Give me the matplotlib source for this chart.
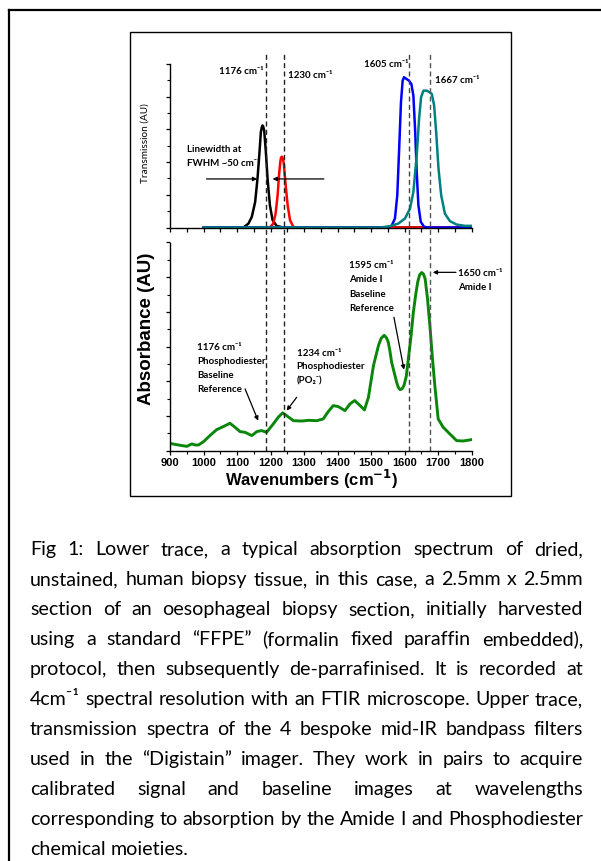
import matplotlib
matplotlib.use('Agg')
import matplotlib.pyplot as plt
from matplotlib.lines import Line2D
from matplotlib.patches import Rectangle
from matplotlib.ticker import MultipleLocator, NullFormatter

plt.rcParams['font.family'] = ['Liberation Sans', 'DejaVu Sans']
CAL = ['Lato', 'DejaVu Sans']

W, H = 601, 862

# upper trace: filter transmission
black_x = [1000, 1119, 1134, 1144, 1154, 1161, 1167, 1171, 1174, 1176, 1178, 1181, 1186, 1191, 1198, 1206, 1218, 1238, 1800]
black_y = [0, 0, 0.024, 0.065, 0.156, 0.299, 0.461, 0.583, 0.615, 0.624, 0.618, 0.593, 0.461, 0.299, 0.136, 0.045, 0.010, 0, 0]
red_x = [1000, 1198, 1208, 1215, 1221, 1226, 1229, 1231, 1233, 1235, 1238, 1240, 1245, 1251, 1258, 1268, 1278, 1800]
red_y = [0, 0, 0.024, 0.085, 0.197, 0.339, 0.400, 0.425, 0.433, 0.431, 0.410, 0.380, 0.258, 0.136, 0.045, 0.004, 0, 0]
blue_x = [1000, 1546, 1561, 1571, 1578, 1584, 1589, 1594, 1598, 1605, 1613, 1620, 1626, 1631, 1636, 1641, 1648, 1658, 1671, 1800]
blue_y = [0, 0, 0.010, 0.055, 0.197, 0.502, 0.766, 0.898, 0.919, 0.909, 0.898, 0.878, 0.807, 0.604, 0.339, 0.136, 0.035, 0.004, 0, 0]
teal_x = [1000, 1527, 1556, 1581, 1601, 1616, 1626, 1636, 1643, 1649, 1656, 1666, 1674, 1681, 1688, 1694, 1701, 1709, 1720, 1735, 1755, 1780, 1800]
teal_y = [0, 0, 0.008, 0.024, 0.055, 0.116, 0.217, 0.441, 0.665, 0.797, 0.837, 0.837, 0.827, 0.817, 0.746, 0.583, 0.360, 0.197, 0.085, 0.039, 0.018, 0.010, 0.010]

# lower trace: tissue absorbance
abs_x = [900, 925, 950, 965, 975, 985, 1000, 1019, 1039, 1059, 1079, 1094, 1109, 1124, 1144, 1159,
         1173, 1188, 1208, 1223, 1236, 1248, 1268, 1293, 1313, 1338, 1357, 1372, 1387, 1402, 1422,
         1437, 1451, 1467, 1480, 1492, 1507, 1522, 1530, 1539, 1546, 1551, 1556, 1561, 1576, 1581,
         1586, 1592, 1598, 1605, 1611, 1619, 1626, 1633, 1639, 1645, 1651, 1656, 1661, 1668, 1676,
         1683, 1690, 1700, 1715, 1735, 1755, 1775, 1800]
abs_y = [0.042, 0.033, 0.025, 0.039, 0.033, 0.033, 0.052, 0.087, 0.121, 0.139, 0.158, 0.135, 0.110,
         0.106, 0.087, 0.110, 0.116, 0.106, 0.154, 0.193, 0.218, 0.202, 0.173, 0.171, 0.175, 0.173,
         0.183, 0.225, 0.260, 0.254, 0.231, 0.270, 0.289, 0.260, 0.235, 0.308, 0.491, 0.607, 0.648,
         0.665, 0.650, 0.626, 0.575, 0.511, 0.395, 0.365, 0.352, 0.356, 0.376, 0.430, 0.530, 0.660,
         0.799, 0.900, 0.973, 1.015, 1.027, 1.018, 0.992, 0.880, 0.703, 0.530, 0.376, 0.183, 0.135,
         0.096, 0.058, 0.056, 0.064]

filter_lines = [1185, 1240, 1613, 1675]
filter_line_colors = ['#222222', '#222222', '#444444', '#555555']

caption = [
    "Fig 1: Lower trace, a typical absorption spectrum of dried,",
    "unstained, human biopsy tissue, in this case, a 2.5mm x 2.5mm",
    "section of an oesophageal biopsy section, initially harvested",
    "using a standard \u201cFFPE\u201d (formalin fixed paraffin embedded),",
    "protocol, then subsequently de-parrafinised. It is recorded at",
    "4cm\u207b\u00b9 spectral resolution with an FTIR microscope. Upper trace,",
    "transmission spectra of the 4 bespoke mid-IR bandpass filters",
    "used in the \u201cDigistain\u201d imager. They work in pairs to acquire",
    "calibrated signal and baseline images at wavelengths",
    "corresponding to absorption by the Amide I and Phosphodiester",
    "chemical moieties.",
]


def fx(px):
    return px / W


def fy(py):
    return 1 - py / H


fig = plt.figure(figsize=(W / 100, H / 100), dpi=100)

# frames
fig.add_artist(Line2D([fx(9), fx(9)], [fy(11), 0], color='black', lw=1.6))
fig.add_artist(Line2D([fx(9), 1], [fy(11), fy(11)], color='black', lw=1.6))
fig.add_artist(Rectangle((fx(129.5), fy(496.7)), (510.7 - 129.5) / W, (496.7 - 33.3) / H,
                         fill=False, ec='black', lw=1.0, transform=fig.transFigure))

ax1 = fig.add_axes([fx(170), fy(228.5), (471.7 - 170) / W, (228.5 - 65) / H])
ax2 = fig.add_axes([fx(170), fy(451.7), (471.7 - 170) / W, (451.7 - 243.5) / H])

for ax in (ax1, ax2):
    ax.set_xlim(900, 1800)
    ax.patch.set_alpha(0)
    for s in ('top', 'right'):
        ax.spines[s].set_visible(False)
    for s in ('left', 'bottom'):
        ax.spines[s].set_linewidth(1.0)
    ax.yaxis.set_major_formatter(NullFormatter())
    ax.tick_params(which='major', direction='out', length=3, width=0.9)
    ax.tick_params(which='minor', direction='out', length=2, width=0.8)

ax1.set_ylim(0, 1)
ax1.xaxis.set_major_locator(MultipleLocator(50))
ax1.xaxis.set_major_formatter(NullFormatter())
ax1.yaxis.set_major_locator(MultipleLocator(0.2))
ax1.yaxis.set_minor_locator(MultipleLocator(0.1))

ax2.set_ylim(0, 1.2)
ax2.xaxis.set_major_locator(MultipleLocator(100))
ax2.xaxis.set_minor_locator(MultipleLocator(50))
ax2.yaxis.set_major_locator(MultipleLocator(0.2))
ax2.yaxis.set_minor_locator(MultipleLocator(0.1))
ax2.tick_params(axis='x', which='major', labelsize=8, pad=1.5)
for lab in ax2.get_xticklabels():
    lab.set_fontweight('bold')

lw = 1.8
ax1.plot(black_x, black_y, color='black', lw=lw, solid_joinstyle='round')
ax1.plot(red_x, red_y, color='#ff0000', lw=lw, solid_joinstyle='round')
ax1.plot(blue_x, blue_y, color='#0000ff', lw=lw, solid_joinstyle='round')
ax1.plot(teal_x, teal_y, color='#008080', lw=lw, solid_joinstyle='round')

ax2.plot(abs_x, abs_y, color='#0a870a', lw=2.1, solid_joinstyle='round')

top_frac = (451.7 - 52) / (451.7 - 243.5)
for xv, c in zip(filter_lines, filter_line_colors):
    ax2.axvline(xv, ymin=0, ymax=top_frac, clip_on=False, color=c, lw=1.0,
                dashes=(3.6, 2.4))

# axis titles
fig.text(fx(312), fy(479), 'Wavenumbers (cm$^{\\mathbf{-1}}$)', fontsize=12, weight='bold',
         ha='center', va='center')
fig.text(fx(146.7), fy(329), 'Absorbance (AU)', fontsize=13.5, weight='bold', rotation=90,
         ha='center', va='center')
fig.text(fx(145), fy(143), 'Transmission (AU)', fontsize=7.2, family=CAL, rotation=90,
         ha='center', va='center')


def label_lines(x, ys, texts, size=7):
    for y, t in zip(ys, texts):
        fig.text(fx(x), fy(y), t, fontsize=size, weight='bold', family=CAL,
                 ha='left', va='center')


label_lines(219, [71], ['1176 cm\u207b\u00b9'])
label_lines(288.3, [75], ['1230 cm\u207b\u00b9'])
label_lines(363.5, [64.3], ['1605 cm\u207b\u00b9'])
label_lines(435, [80.7], ['1667 cm\u207b\u00b9'])
label_lines(186.7, [150, 163.3], ['Linewidth at', 'FWHM ~50 cm\u207b\u00b9'])

label_lines(197.3, [347.7, 361.7, 375.7, 389.5],
            ['1176 cm\u207b\u00b9', 'Phosphodiester', 'Baseline', 'Reference'])
label_lines(296.7, [353.3, 367, 381],
            ['1234 cm\u207b\u00b9', 'Phosphodiester', '(PO\u2082\u207b)'])
label_lines(349.3, [266, 280, 294.3, 308.5],
            ['1595 cm\u207b\u00b9', 'Amide I', 'Baseline', 'Reference'])
label_lines(458.3, [273.3, 287.3], ['1650 cm\u207b\u00b9', 'Amide I'])

arrow = dict(arrowstyle='-|>', color='black', lw=0.9, mutation_scale=6, shrinkA=0, shrinkB=0)
ax1.annotate('', xy=(1160, 0.297), xytext=(1009, 0.297), arrowprops=arrow, annotation_clip=False)
ax1.annotate('', xy=(1206, 0.297), xytext=(1359, 0.297), arrowprops=arrow, annotation_clip=False)
ax2.annotate('', xy=(1163, 0.173), xytext=(1124, 0.356), arrowprops=arrow, annotation_clip=False)
ax2.annotate('', xy=(1248, 0.231), xytext=(1278, 0.308), arrowprops=arrow, annotation_clip=False)
ax2.annotate('', xy=(1598, 0.467), xytext=(1568, 0.769), arrowprops=arrow, annotation_clip=False)
ax2.annotate('', xy=(1684, 1.028), xytext=(1753, 1.028), arrowprops=arrow, annotation_clip=False)

# justified caption: place words by measured prefix widths so spacing stays even
renderer = fig.canvas.get_renderer()


def width_of(s, size):
    t = fig.text(0, 0, s, fontsize=size, family=CAL)
    w = t.get_window_extent(renderer).width
    t.remove()
    return w


left, right = 30, 583
base = 12
full = [width_of(line, base) for line in caption[:-1]]
size = base * (right - left) / max(full) * 0.995

for i, line in enumerate(caption):
    yb = 555 + 30 * i
    words = line.split(' ')
    n = len(words)
    extra = 0
    if i < len(caption) - 1:
        extra = (right - left - width_of(line, size)) / (n - 1)
    for k, w in enumerate(words):
        if k == 0:
            xpos = left
        else:
            xpos = left + width_of(' '.join(words[:k + 1]), size) - width_of(w, size) + k * extra
        fig.text(fx(xpos), fy(yb), w, fontsize=size, family=CAL, ha='left', va='baseline')

fig.savefig('out.png', dpi=100)
